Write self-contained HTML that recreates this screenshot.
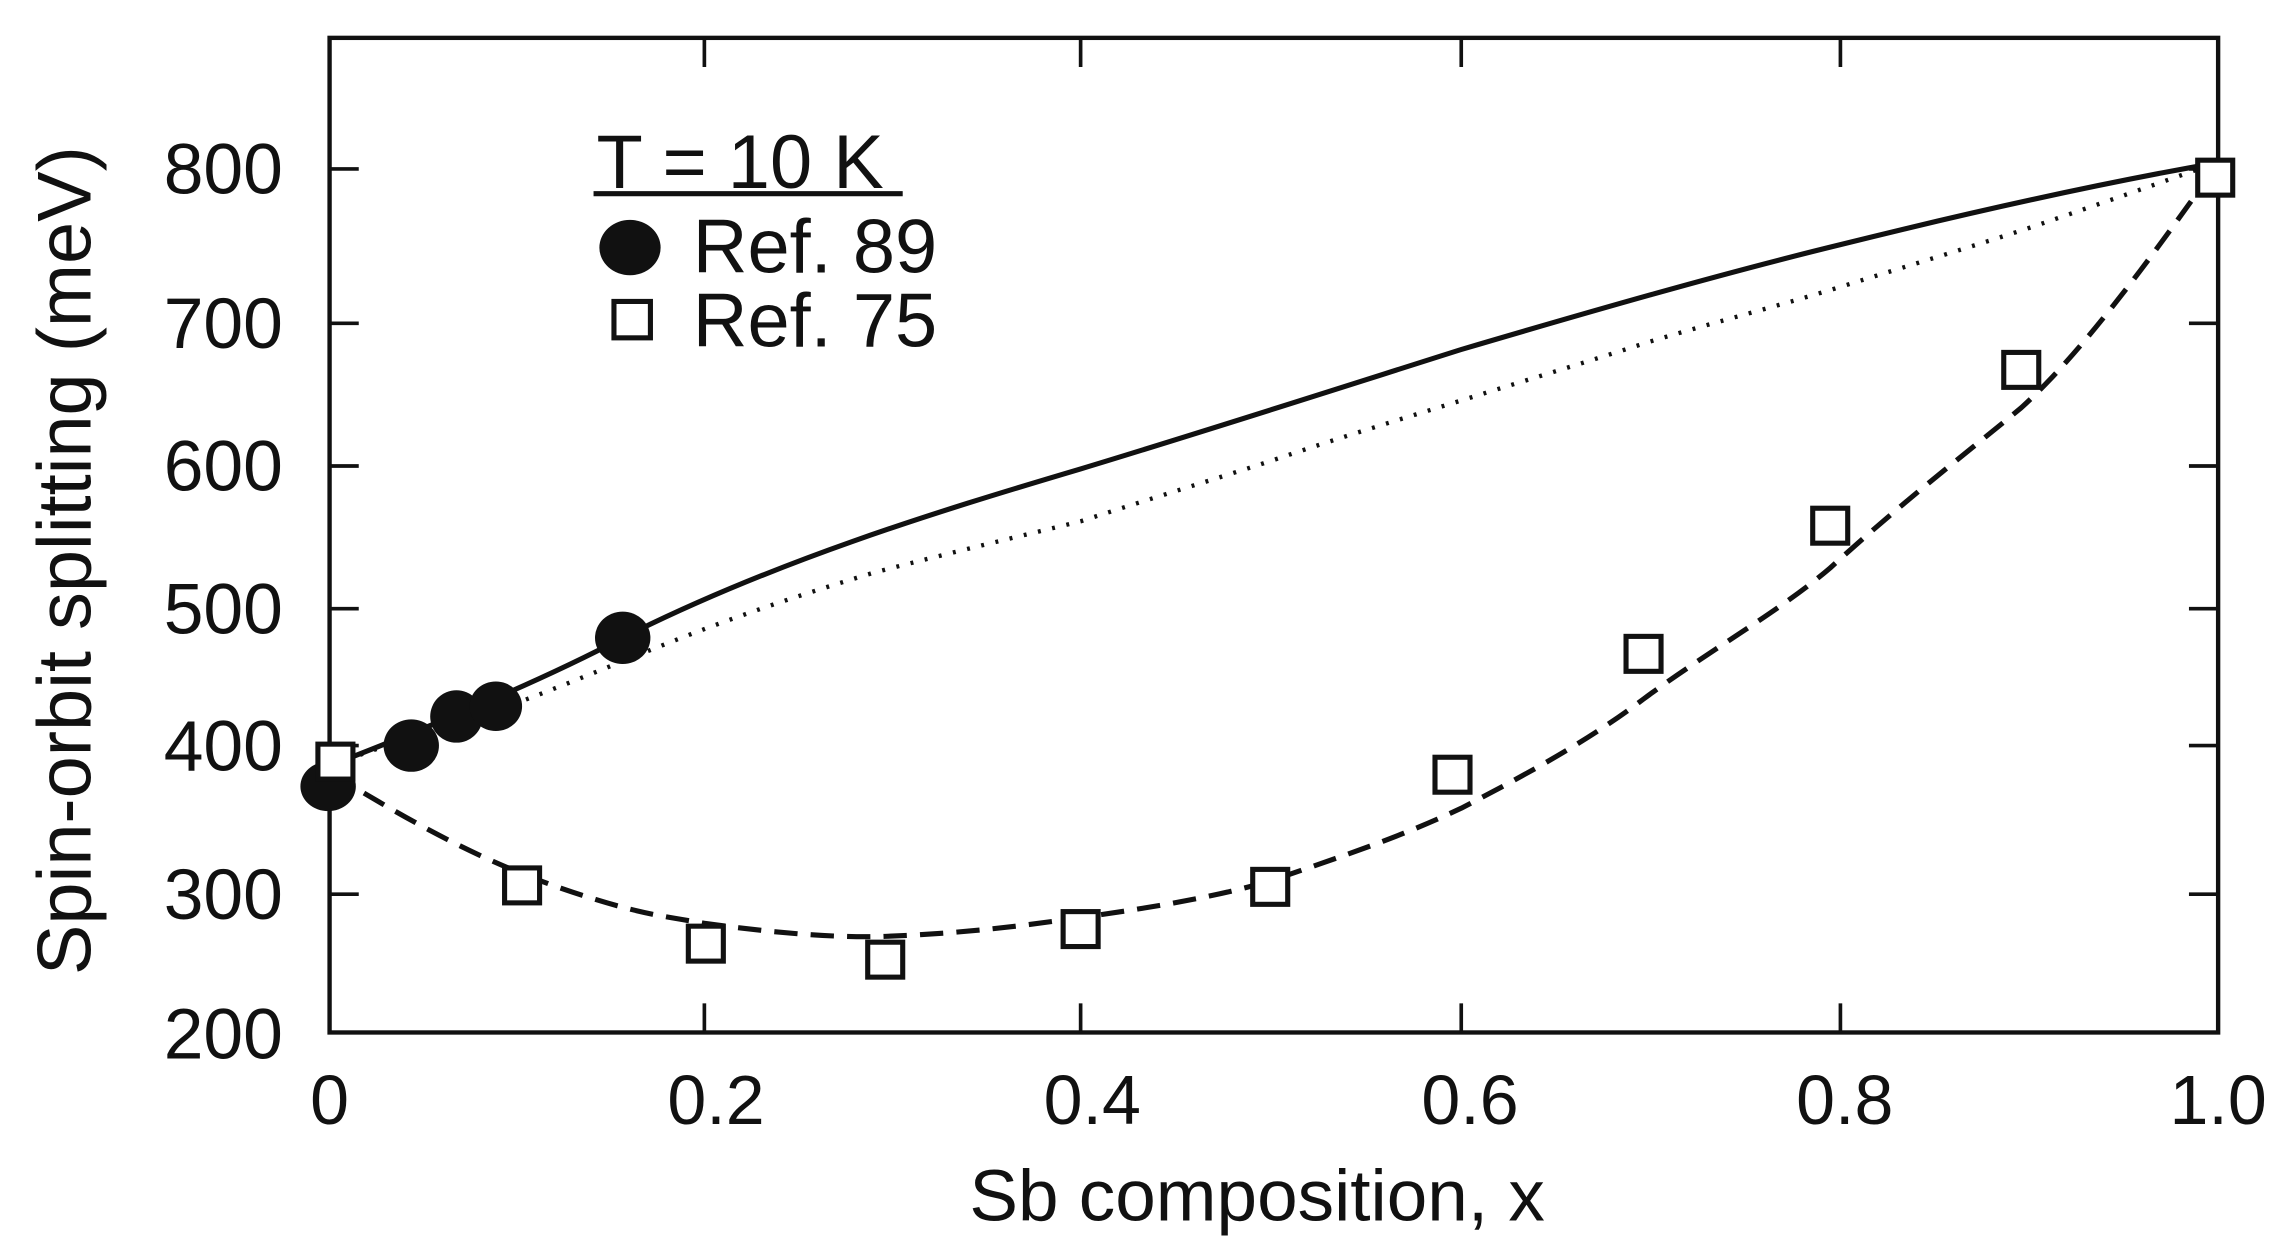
<!DOCTYPE html>
<html><head><meta charset="utf-8"><style>html,body{margin:0;padding:0;background:#fff}svg{display:block}</style></head>
<body>
<svg width="2275" height="1248" viewBox="0 0 1560 857" preserveAspectRatio="none" xmlns="http://www.w3.org/2000/svg" font-family="Liberation Sans, sans-serif" fill="#111">
<rect x="226" y="26" width="1295" height="683" fill="none" stroke="#111" stroke-width="3"/>
<g stroke="#111" stroke-width="2.5">
<line x1="226" y1="116" x2="246" y2="116"/><line x1="226" y1="222" x2="246" y2="222"/><line x1="226" y1="320" x2="246" y2="320"/><line x1="226" y1="418" x2="246" y2="418"/><line x1="226" y1="512" x2="246" y2="512"/><line x1="226" y1="614" x2="246" y2="614"/>
<line x1="1521" y1="116" x2="1501" y2="116"/><line x1="1521" y1="222" x2="1501" y2="222"/><line x1="1521" y1="320" x2="1501" y2="320"/><line x1="1521" y1="418" x2="1501" y2="418"/><line x1="1521" y1="512" x2="1501" y2="512"/><line x1="1521" y1="614" x2="1501" y2="614"/>
<line x1="483" y1="709" x2="483" y2="689"/><line x1="741" y1="709" x2="741" y2="689"/><line x1="1002" y1="709" x2="1002" y2="689"/><line x1="1262" y1="709" x2="1262" y2="689"/>
<line x1="483" y1="26" x2="483" y2="46"/><line x1="741" y1="26" x2="741" y2="46"/><line x1="1002" y1="26" x2="1002" y2="46"/><line x1="1262" y1="26" x2="1262" y2="46"/>
</g>
<g font-size="49" text-anchor="end">
<text x="194" y="133">800</text><text x="194" y="239">700</text><text x="194" y="337">600</text><text x="194" y="435">500</text><text x="194" y="529">400</text><text x="194" y="631">300</text><text x="194" y="727">200</text>
</g>
<g font-size="48" text-anchor="middle">
<text x="226" y="772">0</text><text x="491" y="772">0.2</text><text x="749" y="772">0.4</text><text x="1008" y="772">0.6</text><text x="1265" y="772">0.8</text><text x="1521" y="772">1.0</text>
<text x="862" y="838" font-size="50">Sb composition, x</text>
<text transform="translate(62,385) rotate(-90)" font-size="52">Spin-orbit splitting (meV)</text>
</g>
<g font-size="52">
<text x="409" y="129">T = 10 K</text>
<line x1="407" y1="133" x2="619" y2="133" stroke="#111" stroke-width="3.5"/>
<ellipse cx="432" cy="170" rx="21" ry="19"/>
<text x="475" y="187">Ref. 89</text>
<rect x="421" y="207" width="25" height="25" fill="#fff" stroke="#111" stroke-width="3.5"/>
<text x="475" y="238">Ref. 75</text>
</g>
<g fill="none" stroke="#111" stroke-width="3.5" stroke-linejoin="round">
<path d="M228,525 C300,497 370,468 427,438 C530,386 640,352 741,322 C830,295 920,266 1002,240 C1090,214 1180,188 1262,168 C1350,146 1440,126 1519,112"/>
<path stroke-width="3" stroke-dasharray="2,8" d="M228,525 C270,510 300,500 340,488 C390,470 440,448 483,432 C520,418 560,405 600,393 C650,380 700,368 741,358 C790,342 830,330 870,317 C920,300 960,288 1002,275 C1050,260 1090,248 1130,235 C1180,220 1220,210 1262,197 C1310,182 1350,170 1390,157 C1440,140 1480,126 1519,112"/>
<path stroke-dasharray="16,9" d="M228,532 C260,550 320,590 400,615 C440,628 460,630 483,634 C540,642 580,644 607,643 C660,641 700,636 741,630 C800,622 840,614 871,605 C920,588 960,575 1002,555 C1050,530 1090,508 1127,480 C1170,448 1220,420 1255,390 C1310,340 1350,310 1386,280 C1430,240 1480,170 1519,115"/>
</g>
<g>
<ellipse cx="225" cy="540" rx="19" ry="17"/><ellipse cx="282" cy="512" rx="19" ry="18"/><ellipse cx="313" cy="492" rx="18" ry="18"/><ellipse cx="340" cy="485" rx="18" ry="17"/><ellipse cx="427" cy="438" rx="19" ry="18"/>
</g>
<g fill="#fff" stroke="#111" stroke-width="3.5">
<rect x="218" y="511" width="24" height="24"/><rect x="346" y="596" width="24" height="24"/><rect x="472" y="636" width="24" height="24"/><rect x="595" y="647" width="24" height="24"/><rect x="729" y="626" width="24" height="24"/><rect x="859" y="597" width="24" height="24"/><rect x="984" y="520" width="24" height="24"/><rect x="1115" y="437" width="24" height="24"/><rect x="1243" y="349" width="24" height="24"/><rect x="1374" y="242" width="24" height="24"/><rect x="1507" y="110" width="24" height="24"/>
</g>
</svg>
</body></html>
